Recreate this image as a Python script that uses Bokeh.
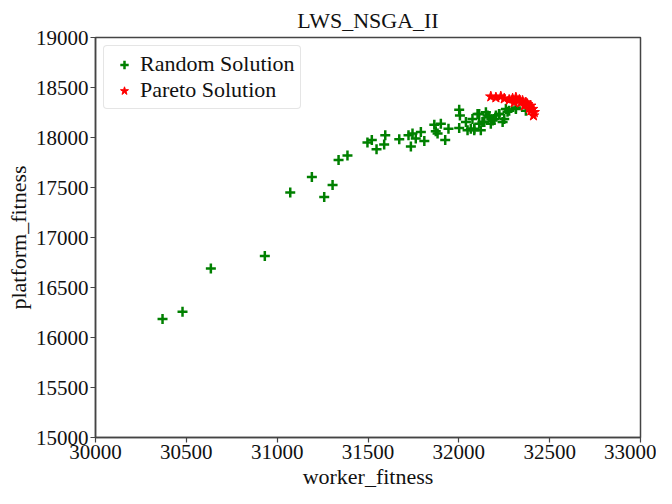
from bokeh.plotting import figure
from bokeh.models import FixedTicker, Range1d
from bokeh.embed import file_html
from bokeh.resources import INLINE

# Random solutions (worker_fitness, platform_fitness)
random_x = [30369, 30479, 30635, 30932, 31072, 31191, 31259, 31305, 31338, 31387,
            31497, 31521, 31547, 31589, 31595, 31672, 31723, 31745, 31736, 31763,
            31791, 31810, 31865, 31873, 31901, 31883, 31943, 31925, 32002, 32006,
            32002, 32048, 32039, 32075, 32085, 32103, 32121, 32140, 32158, 32176,
            32195, 32222, 32250, 32268, 32314, 32112, 32066,
            32085, 32112, 32130, 32149, 32167, 32186, 32204, 32222, 32241, 32259,
            32277, 32314, 32369]
random_y = [16186, 16258, 16690, 16814, 17451, 17605, 17405, 17526, 17775, 17820,
            17951, 17974, 17882, 17931, 18023, 17983, 18023, 18039, 17909, 17990,
            18056, 17964, 18127, 18062, 18137, 18039, 18088, 17974, 18277, 18219,
            18095, 18072, 18154, 18186, 18072, 18235, 18072, 18154, 18219, 18137,
            18186, 18235, 18186, 18258, 18284, 18137, 18088,
            18088, 18235, 18154, 18252, 18203, 18170, 18219, 18235, 18154, 18284,
            18268, 18301, 18268]

# Pareto solutions
pareto_x = [32176, 32204, 32231, 32250, 32277, 32296, 32314, 32333, 32351, 32369,
            32378, 32396, 32406, 32415, 32411, 32305, 32341, 32360, 32388, 32396]
pareto_y = [18409, 18399, 18409, 18389, 18376, 18389, 18399, 18376, 18366, 18350,
            18333, 18317, 18284, 18252, 18219, 18350, 18350, 18317, 18291, 18268]

x_ticks = [30000, 30500, 31000, 31500, 32000, 32500, 33000]
y_ticks = [15000, 15500, 16000, 16500, 17000, 17500, 18000, 18500, 19000]

FONT = "Liberation Serif"
INK = "#111111"
LINE = "#444444"

p = figure(width=656, height=496, output_backend="svg", toolbar_location=None,
           x_range=Range1d(30000, 33000), y_range=Range1d(15000, 19000),
           min_border_left=95, min_border_right=16, min_border_top=29, min_border_bottom=59)

p.title.text = "LWS_NSGA_II"
p.title.align = "center"
p.title.text_font = FONT
p.title.text_font_size = "22px"
p.title.text_font_style = "normal"
p.title.text_color = INK

p.scatter(random_x, random_y, marker="cross", size=10, line_width=2.5,
          color="green", legend_label="Random Solution")
p.scatter(pareto_x, pareto_y, marker="star", size=11, line_width=1,
          color="red", fill_color="red", legend_label="Pareto Solution")

p.xgrid.visible = False
p.ygrid.visible = False
p.outline_line_color = LINE
p.outline_line_width = 1.5

for ax, lab, ticks in ((p.xaxis[0], "worker_fitness", x_ticks), (p.yaxis[0], "platform_fitness", y_ticks)):
    ax.ticker = FixedTicker(ticks=ticks)
    ax.axis_label = lab
    ax.axis_label_text_font = FONT
    ax.axis_label_text_font_size = "22px"
    ax.axis_label_text_font_style = "normal"
    ax.axis_label_text_color = INK
    ax.major_label_text_font = FONT
    ax.major_label_text_font_size = "21px"
    ax.major_label_text_color = INK
    ax.axis_line_color = LINE
    ax.axis_line_width = 1.5
    ax.major_tick_line_color = LINE
    ax.major_tick_line_width = 1.2
    ax.major_tick_in = 0
    ax.major_tick_out = 5
    ax.minor_tick_line_color = None
    ax.axis_label_standoff = 2
    ax.major_label_standoff = 2

p.yaxis[0].major_label_orientation = 0

p.legend.location = "top_left"
p.legend.label_text_font = FONT
p.legend.label_text_font_size = "22px"
p.legend.label_text_color = INK
p.legend.border_line_color = "#cccccc"
p.legend.border_line_width = 1.2
p.legend.border_radius = 4
p.legend.margin = 8
p.legend.padding = 5
p.legend.spacing = 0
p.legend.label_height = 21
p.legend.glyph_height = 21
p.legend.glyph_width = 30
p.legend.label_standoff = 1

open("out.html", "w").write(file_html(p, INLINE))
